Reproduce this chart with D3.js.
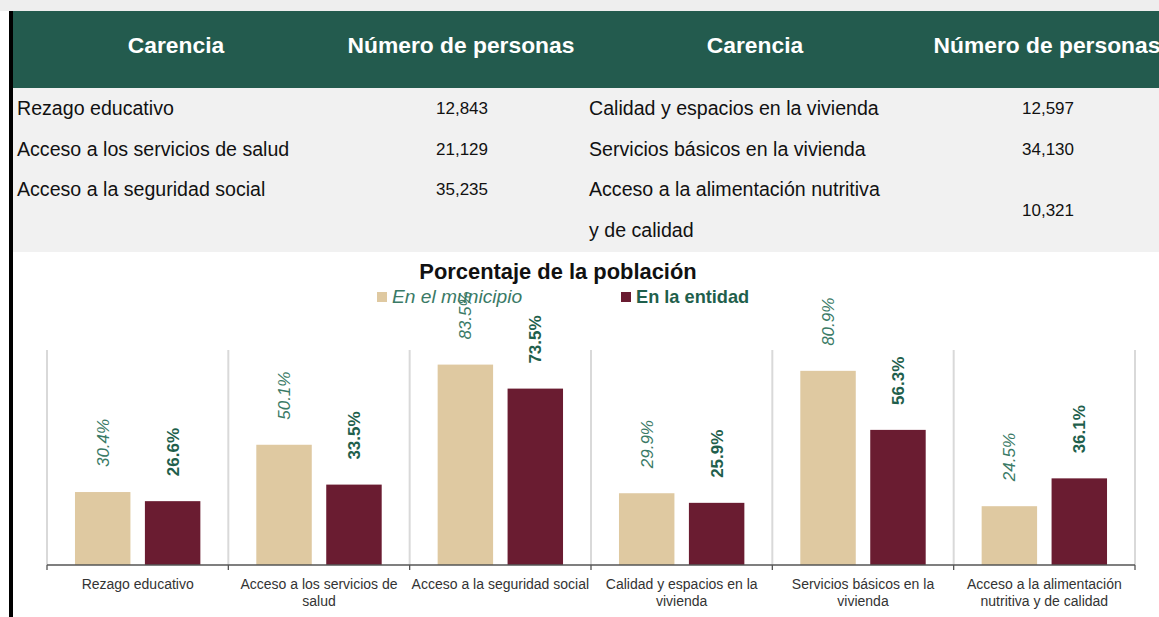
<!DOCTYPE html>
<html><head><meta charset="utf-8">
<script src="https://cdn.jsdelivr.net/npm/d3@7"></script>
<style>html,body{margin:0;padding:0;background:#fff;overflow:hidden}svg{display:block}</style>
</head><body>
<script>
// ---- Data ----
const tableHeaders = ["Carencia", "Número de personas", "Carencia", "Número de personas"];
const tableLeftCats = ["Rezago educativo", "Acceso a los servicios de salud", "Acceso a la seguridad social"];
const tableLeftVals = [12843, 21129, 35235];
const tableRightCats = [["Calidad y espacios en la vivienda"], ["Servicios básicos en la vivienda"], ["Acceso a la alimentación nutritiva", "y de calidad"]];
const tableRightVals = [12597, 34130, 10321];

const chartTitle = "Porcentaje de la población";
const seriesNames = ["En el municipio", "En la entidad"];
const categories = ["Rezago educativo", "Acceso a los servicios de salud", "Acceso a la seguridad social",
  "Calidad y espacios en la vivienda", "Servicios básicos en la vivienda", "Acceso a la alimentación nutritiva y de calidad"];
const municipio = [30.4, 50.1, 83.5, 29.9, 80.9, 24.5];
const entidad = [26.6, 33.5, 73.5, 25.9, 56.3, 36.1];

// ---- Drawing ----
const W = 1159, H = 617;
const FONT = "'Liberation Sans', Arial, sans-serif";
const cTan = "#dfc9a1", cMaroon = "#6a1c31", cGreen = "#235b4e";
const cLblLight = "#3a7a66", cLblDark = "#1f5f4c";

const svg = d3.select("body").append("svg").attr("width", W).attr("height", H)
  .style("font-family", FONT);

// background pieces
svg.append("rect").attr("x", 0).attr("y", 0).attr("width", W).attr("height", 11).attr("fill", "#eeeeee");
svg.append("rect").attr("x", 13).attr("y", 11).attr("width", W - 13).attr("height", 77).attr("fill", cGreen);
svg.append("rect").attr("x", 13).attr("y", 88).attr("width", W - 13).attr("height", 164).attr("fill", "#f1f1f1");
svg.append("rect").attr("x", 9).attr("y", 11).attr("width", 4).attr("height", H - 11).attr("fill", "#000");

// table header
const headX = [176, 461, 755, 1047];
svg.selectAll("text.head").data(tableHeaders).join("text").attr("class", "head")
  .attr("x", (d, i) => headX[i]).attr("y", 53)
  .attr("text-anchor", "middle").attr("fill", "#fff")
  .attr("font-size", 22.8).attr("font-weight", "bold").text(d => d);

const fmt = d3.format(",");
const rowY = [115, 156, 196];
svg.selectAll("text.lc").data(tableLeftCats).join("text").attr("class", "lc")
  .attr("x", 17).attr("y", (d, i) => rowY[i]).attr("font-size", 19.6).attr("fill", "#111").text(d => d);
svg.selectAll("text.lv").data(tableLeftVals).join("text").attr("class", "lv")
  .attr("x", 462).attr("y", (d, i) => rowY[i] - 1).attr("text-anchor", "middle")
  .attr("font-size", 17).attr("fill", "#111").text(d => fmt(d));
const rc = svg.selectAll("text.rc").data(tableRightCats).join("text").attr("class", "rc")
  .attr("x", 589).attr("y", (d, i) => rowY[i]).attr("font-size", 19.6).attr("fill", "#111");
rc.selectAll("tspan").data(d => d).join("tspan").attr("x", 589).attr("dy", (d, i) => i ? 41 : 0).text(d => d);
svg.selectAll("text.rv").data(tableRightVals).join("text").attr("class", "rv")
  .attr("x", 1048).attr("y", (d, i) => i === 2 ? 216 : rowY[i] - 1).attr("text-anchor", "middle")
  .attr("font-size", 17).attr("fill", "#111").text(d => fmt(d));

// chart title & legend
svg.append("text").attr("x", 558).attr("y", 279).attr("text-anchor", "middle")
  .attr("font-size", 21.9).attr("font-weight", "bold").attr("fill", "#111").text(chartTitle);

const legend = [
  {name: seriesNames[0], color: cTan, x: 377, style: "italic", weight: "normal", tc: cLblLight, fs: 19.2},
  {name: seriesNames[1], color: cMaroon, x: 621, style: "normal", weight: "bold", tc: cLblDark, fs: 18.2}
];
const lg = svg.selectAll("g.lg").data(legend).join("g").attr("class", "lg");
lg.append("rect").attr("x", d => d.x).attr("y", 292).attr("width", 10).attr("height", 10).attr("fill", d => d.color);
lg.append("text").attr("x", d => d.x + 15).attr("y", 303).attr("font-size", d => d.fs)
  .attr("font-style", d => d.style).attr("font-weight", d => d.weight).attr("fill", d => d.tc).text(d => d.name);

// scales
const x = d3.scaleBand().domain(categories).range([47, 1135]).padding(0);
const xs = d3.scaleBand().domain(["m", "e"]).range([0, x.bandwidth()]).paddingInner(0.207).paddingOuter(0.4);
const y = d3.scaleLinear().domain([0, 100]).range([565, 325]);

// vertical gridlines at category boundaries
const bounds = categories.map(c => x(c)).concat([x(categories[categories.length - 1]) + x.bandwidth()]);
svg.selectAll("line.grid").data(bounds).join("line").attr("class", "grid")
  .attr("x1", d => d).attr("x2", d => d).attr("y1", 350).attr("y2", y(0))
  .attr("stroke", "#d9d9d9").attr("stroke-width", 2);

// bars
const rows = categories.map((c, i) => ({c, m: municipio[i], e: entidad[i]}));
const g = svg.selectAll("g.cat").data(rows).join("g").attr("class", "cat")
  .attr("transform", d => `translate(${x(d.c)},0)`);
g.append("rect").attr("x", xs("m")).attr("width", xs.bandwidth())
  .attr("y", d => y(d.m)).attr("height", d => y(0) - y(d.m)).attr("fill", cTan);
g.append("rect").attr("x", xs("e")).attr("width", xs.bandwidth())
  .attr("y", d => y(d.e)).attr("height", d => y(0) - y(d.e)).attr("fill", cMaroon);

// value labels (rotated)
const pct = d => d3.format(".1f")(d) + "%";
g.append("text")
  .attr("transform", d => `translate(${xs("m") + xs.bandwidth() / 2},${y(d.m) - 25}) rotate(-90)`)
  .attr("dy", "0.35em").attr("font-size", 17).attr("font-style", "italic")
  .attr("fill", cLblLight).text(d => pct(d.m));
g.append("text")
  .attr("transform", d => `translate(${xs("e") + xs.bandwidth() / 2},${y(d.e) - 25}) rotate(-90)`)
  .attr("dy", "0.35em").attr("font-size", 17).attr("font-weight", "bold")
  .attr("fill", cLblDark).text(d => pct(d.e));

// x axis
const axis = svg.append("g").attr("transform", `translate(0,${y(0)})`)
  .call(d3.axisBottom(x).tickSize(0).tickPadding(14));
axis.select(".domain").attr("stroke", "#555").attr("stroke-width", 1.3).attr("d", `M47,0H1135`);
axis.selectAll(".tick text").attr("font-size", 14).attr("fill", "#333").attr("font-family", FONT);
svg.selectAll("line.tk").data(bounds).join("line").attr("class", "tk")
  .attr("x1", d => d).attr("x2", d => d).attr("y1", y(0)).attr("y2", y(0) + 5)
  .attr("stroke", "#555").attr("stroke-width", 1.3);

// wrap tick labels
axis.selectAll(".tick text").each(function(d) {
  const t = d3.select(this);
  const words = d.split(" ");
  t.text(null);
  let line = [];
  let ts = t.append("tspan").attr("x", 0).attr("dy", "0.71em");
  for (const w of words) {
    line.push(w);
    ts.text(line.join(" "));
    if (ts.node().getComputedTextLength() > 179 && line.length > 1) {
      line.pop(); ts.text(line.join(" "));
      line = [w];
      ts = t.append("tspan").attr("x", 0).attr("dy", "1.2em").text(w);
    }
  }
});
</script>
</body></html>
